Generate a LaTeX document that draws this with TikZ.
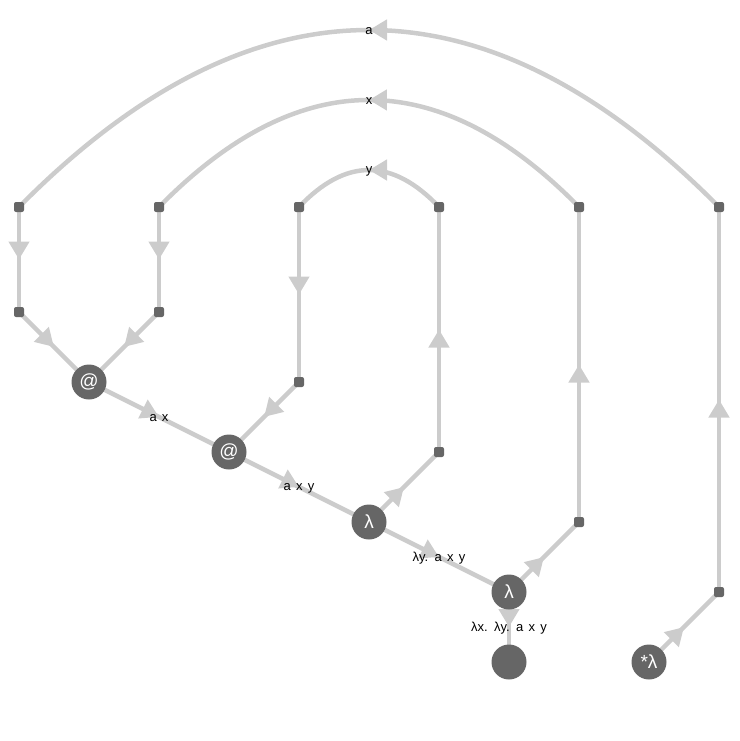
\documentclass[tikz,border=0pt]{standalone}
\usepackage{fontspec}
\setmainfont[WordSpace=1.45]{Liberation Sans}
\usetikzlibrary{arrows.meta,decorations.markings,backgrounds}
\definecolor{knudefarve}{HTML}{666666}
\definecolor{kantfarve}{HTML}{CCCCCC}

\begin{document}
\begin{tikzpicture}[x=1pt,y=-1pt,
  hjoerne/.style={fill=knudefarve,minimum size=10pt,inner sep=0pt,rounded corners=2pt},
  term/.style={circle,fill=knudefarve,minimum size=35pt,inner sep=0pt,text=white,font=\fontsize{19}{19}\selectfont},
  kant/.style={line width=4.5pt,draw=kantfarve,postaction={decorate},
    decoration={markings,mark=at position 0.5 with {\arrow[color=kantfarve]{Triangle[length=18pt,width=20pt]}}}},
  etiket/.style={font=\fontsize{13}{13}\selectfont,inner sep=0pt,yshift=-1.5pt}]
  %ramme
  	\useasboundingbox (0,0) rectangle (739,741);

  %hjoerner
  	\node[hjoerne] (s1) at (19,207) {};
  	\node[hjoerne] (s2) at (19,312) {};
  	\node[hjoerne] (s3) at (159,207) {};
  	\node[hjoerne] (s4) at (159,312) {};
  	\node[hjoerne] (s5) at (299,207) {};
  	\node[hjoerne] (s6) at (299,382) {};
  	\node[hjoerne] (s7) at (439,207) {};
  	\node[hjoerne] (s8) at (439,452) {};
  	\node[hjoerne] (s9) at (579,207) {};
  	\node[hjoerne] (s10) at (579,522) {};
  	\node[hjoerne] (s11) at (719,207) {};
  	\node[hjoerne] (s12) at (719,592) {};

  %termer
  	\node[term] (app1) at (89,382) {@};
  	\node[term] (app2) at (229,452) {@};
  	\node[term] (lam1) at (369,522) {λ};
  	\node[term] (lam2) at (509,592) {λ};
  	\node[term] (rod) at (509,662) {};
  	\node[term] (stjerne) at (649,662) {*λ};

  \begin{scope}[on background layer]
  %variabel a
  	\draw[kant] (s11.center) .. controls +(-233.3,-236) and +(233.3,-236) .. node[etiket] (va) {a} (s1.center);
  	\draw[kant] (s1.center) -- (s2.center);
  	\draw[kant] (s2.center) -- (app1.center);
  %variabel x
  	\draw[kant] (s9.center) .. controls +(-140,-142.7) and +(140,-142.7) .. node[etiket] (vx) {x} (s3.center);
  	\draw[kant] (s3.center) -- (s4.center);
  	\draw[kant] (s4.center) -- (app1.center);
  %variabel y
  	\draw[kant] (s7.center) .. controls +(-46.7,-49.3) and +(46.7,-49.3) .. node[etiket] (vy) {y} (s5.center);
  	\draw[kant] (s5.center) -- (s6.center);
  	\draw[kant] (s6.center) -- (app2.center);

  %termer
  	\draw[kant] (app1.center) -- node[etiket] (tax) {a x} (app2.center);
  	\draw[kant] (app2.center) -- node[etiket] (taxy) {a x y} (lam1.center);
  	\draw[kant] (lam1.center) -- node[etiket] (tly) {λy. a x y} (lam2.center);
  	\draw[kant] (lam2.center) -- node[etiket] (tlx) {λx. λy. a x y} (rod.center);

  %bindinger
  	\draw[kant] (lam1.center) -- (s8.center);
  	\draw[kant] (s8.center) -- (s7.center);
  	\draw[kant] (lam2.center) -- (s10.center);
  	\draw[kant] (s10.center) -- (s9.center);
  	\draw[kant] (stjerne.center) -- (s12.center);
  	\draw[kant] (s12.center) -- (s11.center);
  \end{scope}
\end{tikzpicture}
\end{document}
